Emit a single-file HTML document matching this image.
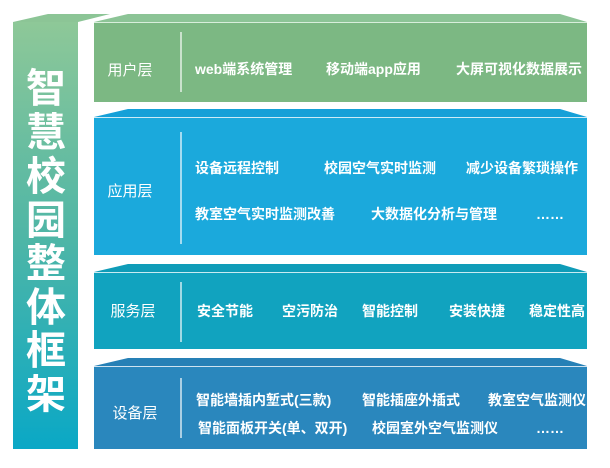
<!DOCTYPE html>
<html><head><meta charset="utf-8"><style>
body{margin:0;background:#fff;width:610px;height:463px;overflow:hidden}
svg text{font-family:"Liberation Sans","Noto Sans CJK SC",sans-serif;fill:#fff}
</style></head><body>
<svg width="610" height="463" viewBox="0 0 610 463">
<defs>
<linearGradient id="lg" x1="0" y1="0" x2="0" y2="1">
<stop offset="0" stop-color="#8ec898"/><stop offset="0.5" stop-color="#4fb6a6"/><stop offset="1" stop-color="#0aa8c6"/>
</linearGradient>
</defs>
<!-- left column -->
<polygon points="13,22 48,14 110,14 78,22" fill="#8cc596"/>
<rect x="13" y="22" width="65" height="427" fill="url(#lg)"/>
<g font-size="40" font-weight="bold" text-anchor="middle">
<text x="46" y="102">智</text><text x="46" y="146">慧</text><text x="46" y="190">校</text><text x="46" y="234">园</text>
<text x="46" y="277">整</text><text x="46" y="321">体</text><text x="46" y="364">框</text><text x="46" y="408">架</text>
</g>
<!-- green -->
<polygon points="94,22 128,14 560,14 587,22" fill="#8cc496"/>
<rect x="94" y="22" width="493" height="80" fill="#7cb883"/>
<line x1="94" y1="22.5" x2="587" y2="22.5" stroke="#d8eedb" stroke-width="1"/>
<line x1="181" y1="32" x2="181" y2="92" stroke="#fff" stroke-width="1.2"/>
<text x="130" y="75" font-size="15" text-anchor="middle">用户层</text>
<g font-size="14" font-weight="bold">
<text x="195" y="74">web端系统管理</text><text x="326" y="74">移动端app应用</text><text x="456" y="74">大屏可视化数据展示</text>
</g>
<!-- blue -->
<polygon points="94,117 128,109 560,109 587,117" fill="#15a0d8"/>
<rect x="94" y="117" width="493" height="138" fill="#1ba9dc"/>
<line x1="94" y1="117.5" x2="587" y2="117.5" stroke="#cdebf7" stroke-width="1"/>
<line x1="181" y1="132" x2="181" y2="244" stroke="#fff" stroke-width="1.2"/>
<text x="130" y="196" font-size="15" text-anchor="middle">应用层</text>
<g font-size="14" font-weight="bold">
<text x="195" y="173">设备远程控制</text><text x="324" y="173">校园空气实时监测</text><text x="466" y="173">减少设备繁琐操作</text>
<text x="195" y="219">教室空气实时监测改善</text><text x="371" y="219">大数据化分析与管理</text><text x="536" y="219">……</text>
</g>
<!-- service -->
<polygon points="94,272 128,264 560,264 587,272" fill="#0f9cb8"/>
<rect x="94" y="272" width="493" height="77" fill="#11a3bf"/>
<line x1="94" y1="272.5" x2="587" y2="272.5" stroke="#c9ebf2" stroke-width="1"/>
<line x1="181" y1="282" x2="181" y2="342" stroke="#fff" stroke-width="1.2"/>
<text x="133" y="316" font-size="15" text-anchor="middle">服务层</text>
<g font-size="14" font-weight="bold">
<text x="197" y="316">安全节能</text><text x="282" y="316">空污防治</text><text x="362" y="316">智能控制</text><text x="449" y="316">安装快捷</text><text x="529" y="316">稳定性高</text>
</g>
<!-- device -->
<polygon points="94,366 128,358 560,358 587,366" fill="#2680b6"/>
<rect x="94" y="366" width="493" height="83" fill="#2a87bd"/>
<line x1="94" y1="366.5" x2="587" y2="366.5" stroke="#cfe3f0" stroke-width="1"/>
<line x1="181" y1="378" x2="181" y2="438" stroke="#fff" stroke-width="1.2"/>
<text x="135" y="418" font-size="15" text-anchor="middle">设备层</text>
<g font-size="14" font-weight="bold">
<text x="196" y="405">智能墙插内堑式(三款)</text><text x="362" y="405">智能插座外插式</text><text x="488" y="405">教室空气监测仪</text>
<text x="198" y="433">智能面板开关(单、双开)</text><text x="372" y="433">校园室外空气监测仪</text><text x="536" y="433">……</text>
</g>
</svg>
</body></html>
